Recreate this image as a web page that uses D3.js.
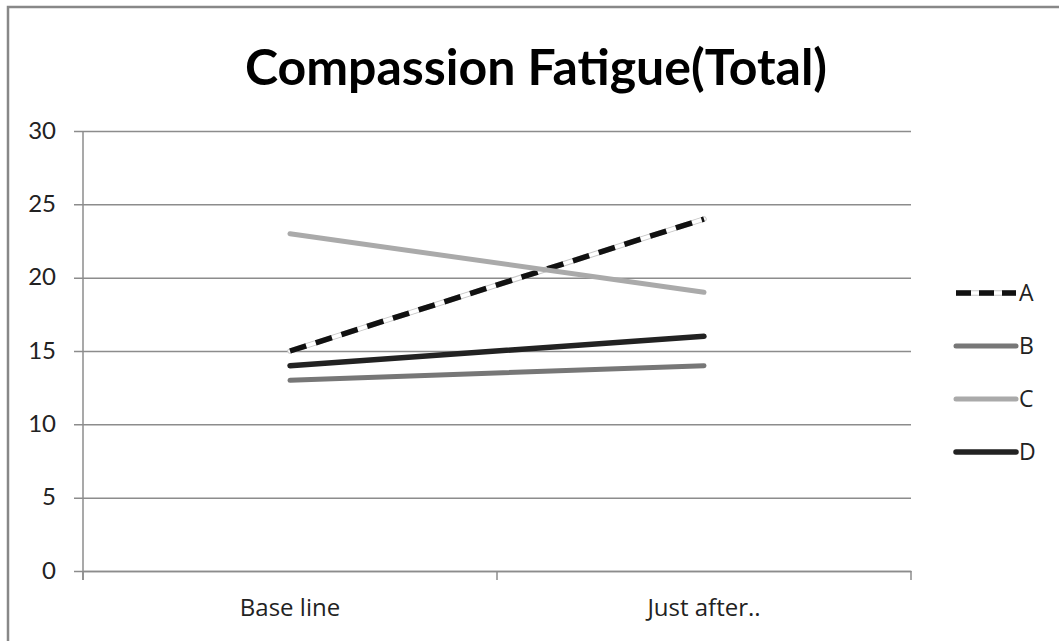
<!DOCTYPE html>
<html><head><meta charset="utf-8">
<script src="https://cdn.jsdelivr.net/npm/d3@7"></script>
<style>body{margin:0;background:#fff}svg{display:block}text{font-family:Lato,"Open Sans",sans-serif}.os{font-family:"Open Sans",sans-serif}</style>
</head><body>
<svg id="c" width="1059" height="641"></svg>
<script>
const categories = ["Base line", "Just after.."];
const seriesNames = ["A", "B", "C", "D"];
const valuesA = [15, 24];
const valuesB = [13, 14];
const valuesC = [23, 19];
const valuesD = [14, 16];
const yTicks = [0, 5, 10, 15, 20, 25, 30];
const title = "Compassion Fatigue(Total)";

const series = [
  {name: seriesNames[0], values: valuesA, color: "#111", dash: "17,10", width: 5.5},
  {name: seriesNames[1], values: valuesB, color: "#777", dash: null, width: 5},
  {name: seriesNames[2], values: valuesC, color: "#aaa", dash: null, width: 5},
  {name: seriesNames[3], values: valuesD, color: "#222", dash: null, width: 5.5}
];

const svg = d3.select("#c");
svg.append("rect").attr("x", 8).attr("y", 7).attr("width", 1060).attr("height", 650)
  .attr("fill", "#fff").attr("stroke", "#888").attr("stroke-width", 2.5);

const L = 83, R = 911, T = 131, B = 571;
const x = d3.scaleBand().domain(categories).range([L, R]);
const y = d3.scaleLinear().domain([0, 30]).range([B, T]);

svg.append("text").attr("x", 536).attr("y", 85).attr("text-anchor", "middle")
  .style("font-size", "50px").attr("font-weight", "bold").attr("fill", "#000").text(title);

// gridlines
const gy = svg.append("g").attr("transform", `translate(${L},0)`)
  .call(d3.axisLeft(y).tickValues(yTicks).tickSize(-(R - L)).tickFormat(d3.format("d")));
gy.select(".domain").remove();
gy.selectAll(".tick line").attr("stroke", "#8c8c8c").attr("stroke-width", 1.5).attr("x1", -9);
gy.selectAll(".tick text").style("font-size", "24px").attr("fill", "#222").attr("x", -27).attr("dy", "0.3em");

// y axis line
svg.append("line").attr("x1", L).attr("x2", L).attr("y1", T).attr("y2", B + 9)
  .attr("stroke", "#8c8c8c").attr("stroke-width", 1.5);

// x axis
const gx = svg.append("g").attr("transform", `translate(0,${B})`)
  .call(d3.axisBottom(x).tickSize(0).tickPadding(28));
gx.select(".domain").attr("stroke", "#8c8c8c").attr("stroke-width", 1.5);
gx.selectAll(".tick text").attr("class", "os").style("font-size", "24px").attr("fill", "#222");
const bounds = [L, ...categories.map(c => x(c) + x.bandwidth())];
gx.selectAll(".sep").data(bounds).enter().append("line")
  .attr("x1", d => d).attr("x2", d => d).attr("y1", 0).attr("y2", 9)
  .attr("stroke", "#8c8c8c").attr("stroke-width", 1.5);

const line = d3.line().x((d, i) => x(categories[i]) + x.bandwidth() / 2).y(d => y(d));
const lines = svg.append("g");
series.forEach(s => {
  if (s.dash) {
    lines.append("path").attr("d", line(s.values)).attr("fill", "none")
      .attr("stroke", "#c8c8c8").attr("stroke-width", s.width).attr("stroke-linecap", "round");
    lines.append("path").attr("d", line(s.values)).attr("fill", "none")
      .attr("stroke", "#fff").attr("stroke-width", s.width - 2).attr("stroke-linecap", "round");
  }
  lines.append("path").attr("d", line(s.values)).attr("fill", "none")
    .attr("stroke", s.color).attr("stroke-width", s.width)
    .attr("stroke-dasharray", s.dash).attr("stroke-linecap", s.dash ? "butt" : "round");
});

// legend
const lg = svg.append("g");
series.forEach((s, i) => {
  const yy = 293 + i * 53;
  if (s.dash) {
    lg.append("line").attr("x1", 956).attr("x2", 1016).attr("y1", yy).attr("y2", yy)
      .attr("stroke", "#c8c8c8").attr("stroke-width", s.width);
    lg.append("line").attr("x1", 956).attr("x2", 1016).attr("y1", yy).attr("y2", yy)
      .attr("stroke", "#fff").attr("stroke-width", s.width - 2);
  }
  lg.append("line").attr("x1", 956).attr("x2", 1016).attr("y1", yy).attr("y2", yy)
    .attr("stroke", s.color).attr("stroke-width", s.width)
    .attr("stroke-dasharray", s.dash ? "15,8" : null).attr("stroke-linecap", s.dash ? "butt" : "round");
  lg.append("text").attr("x", 1019).attr("y", yy).attr("dy", "0.36em").attr("class", "os")
    .style("font-size", "23px").attr("fill", "#222").text(s.name);
});
</script>
</body></html>
